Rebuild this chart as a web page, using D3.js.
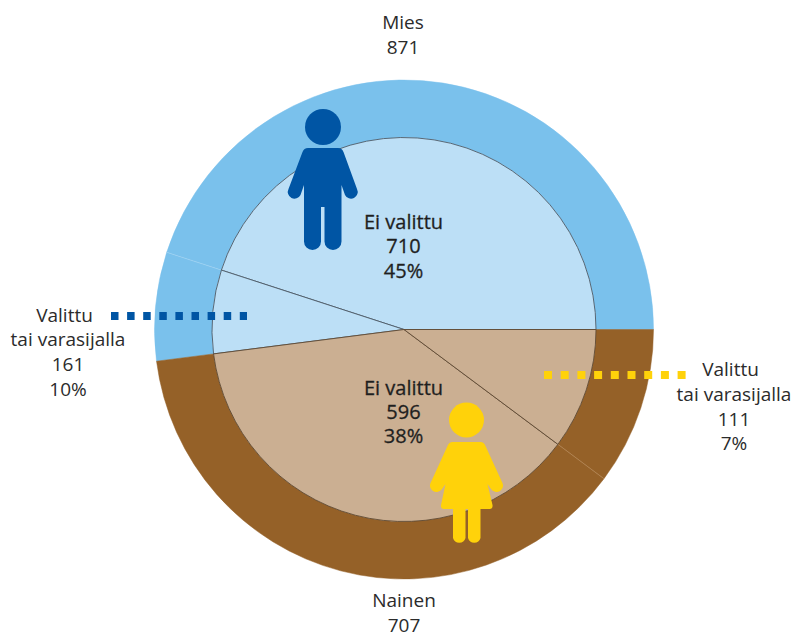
<!DOCTYPE html>
<html>
<head>
<meta charset="utf-8">
<script src="https://cdn.jsdelivr.net/npm/d3@7"></script>
<style>
  html, body { margin: 0; padding: 0; background: #fff; }
  text { font-family: "Open Sans", sans-serif; font-size: 19px; fill: #2b2b2b; text-anchor: middle; }
  .strong { font-size: 20px; font-weight: 500; fill: #1f1f1f; stroke: #1f1f1f; stroke-width: 0.3; }
</style>
</head>
<body>
<script>
// wedges as drawn, counter-clockwise from 3 o'clock
// (the picture's wedge sizes follow 111 on the left and 161 on the right)
const wedgeNames = ['Ei valittu M', 'Valittu M', 'Ei valittu N', 'Valittu N']
const wedgeValues = [710, 111, 596, 161]
const innerColors = ['#bcdff6', '#bcdff6', '#cbaf92', '#cbaf92']
const outerColors = ['#7ac1ec', '#7ac1ec', '#956128', '#956128']
const spokeColors = ['#4d5a66', '#4d5a66', '#5f4a33', '#5f4a33']

const topLabel = ['Mies', '871']
const bottomLabel = ['Nainen', '707']
const leftLabel = ['Valittu', 'tai varasijalla', '161', '10%']
const rightLabel = ['Valittu', 'tai varasijalla', '111', '7%']
const maleCentre = ['Ei valittu', '710', '45%']
const femaleCentre = ['Ei valittu', '596', '38%']

const width = 792, height = 637
const cx = 404, cy = 329.5
const outerR = 249.5, innerR = 192

const svg = d3.select('body').append('svg')
    .attr('width', width)
    .attr('height', height)
    .style('display', 'block')

const chart = svg.append('g').attr('transform', `translate(${cx},${cy})`)

const pie = d3.pie().sort(null)
    .startAngle(Math.PI / 2)
    .endAngle(Math.PI / 2 - 2 * Math.PI)
const wedges = pie(wedgeValues)

const ringArc = d3.arc().innerRadius(innerR).outerRadius(outerR)
const innerArc = d3.arc().innerRadius(0).outerRadius(innerR)

// outer ring
chart.selectAll('.ring').data(wedges).enter()
    .append('path')
    .attr('class', 'ring')
    .attr('d', ringArc)
    .attr('fill', (d, i) => outerColors[i])
    .attr('stroke', (d, i) => outerColors[i])
    .attr('stroke-width', 0.5)

// faint separators inside the ring, only where the colour stays the same
const separators = [wedges[1], wedges[3]]
chart.selectAll('.sep').data(separators).enter()
    .append('line')
    .attr('class', 'sep')
    .attr('x1', d => d3.pointRadial(d.startAngle, innerR)[0])
    .attr('y1', d => d3.pointRadial(d.startAngle, innerR)[1])
    .attr('x2', d => d3.pointRadial(d.startAngle, outerR)[0])
    .attr('y2', d => d3.pointRadial(d.startAngle, outerR)[1])
    .attr('stroke', (d, i) => i == 0 ? '#b5dcf5' : '#c49a6c')
    .attr('stroke-width', 0.5)

// inner pie
chart.selectAll('.slice').data(wedges).enter()
    .append('path')
    .attr('class', 'slice')
    .attr('d', innerArc)
    .attr('fill', (d, i) => innerColors[i])
    .attr('stroke', (d, i) => spokeColors[i])
    .attr('stroke-width', 0.9)

// dotted leader lines
const dotted = svg.append('g').attr('fill', 'none')
dotted.append('line')
    .attr('x1', 111).attr('x2', 247).attr('y1', 316).attr('y2', 316)
    .attr('stroke', '#0055a4').attr('stroke-width', 8)
    .attr('stroke-dasharray', '7.5 8.6')
dotted.append('line')
    .attr('x1', 544).attr('x2', 686).attr('y1', 375).attr('y2', 375)
    .attr('stroke', '#ffd20a').attr('stroke-width', 8)
    .attr('stroke-dasharray', '8 8.7')

// man icon, drawn around the head centre
const man = svg.append('g').attr('fill', '#0055a4').attr('transform', 'translate(323,127)')
man.append('circle').attr('r', 18)
man.append('path').attr('d',
    'M-15,21 H15 Q19,21 20.5,25 L34,62 A6.5,6.5 0 0 1 22,68 L18.5,58 V114.5 ' +
    'A8.5,8.5 0 0 1 1.5,114.5 V80 H-2 V114.5 A8.5,8.5 0 0 1 -19,114.5 V58 ' +
    'L-22.5,68 A6.5,6.5 0 0 1 -34.5,62 L-20.5,25 Q-19,21 -15,21 Z')

// woman icon
const woman = svg.append('g').attr('fill', '#ffd20a').attr('transform', 'translate(466.5,420)')
woman.append('circle').attr('r', 17.5)
woman.append('path').attr('d',
    'M-14,22 H14 Q17.5,22 19,26 L35.5,62 A6.2,6.2 0 0 1 24.5,69 L21,64 L26,85 ' +
    'Q26.5,89 23,89 H14 V118 A6.5,6.5 0 0 1 1.5,118 V89 H-1 V118 ' +
    'A6.5,6.5 0 0 1 -13.5,118 V89 H-22.5 Q-26,89 -25.5,85 L-21,64 L-24.5,69 ' +
    'A6.2,6.2 0 0 1 -35.5,62 L-19,26 Q-17.5,22 -14,22 Z')

// text blocks, one <text> per line; firstDx nudges the first line
function block(lines, x, y, step, cls, firstDx) {
    svg.append('g').selectAll('text').data(lines).enter()
        .append('text')
        .attr('class', cls || null)
        .attr('x', (d, i) => i == 0 && firstDx ? x + firstDx : x)
        .attr('y', (d, i) => y + i * step)
        .text(d => d)
}

block(topLabel, 403, 29, 25)
block(bottomLabel, 404, 607, 24.5)
block(leftLabel, 68, 321.7, 24.7, null, -3.5)
block(rightLabel, 734, 376, 24.8, null, -3.5)
block(maleCentre, 403.5, 228.5, 24.5, 'strong')
block(femaleCentre, 403.5, 394.5, 24.3, 'strong')
</script>
</body>
</html>
